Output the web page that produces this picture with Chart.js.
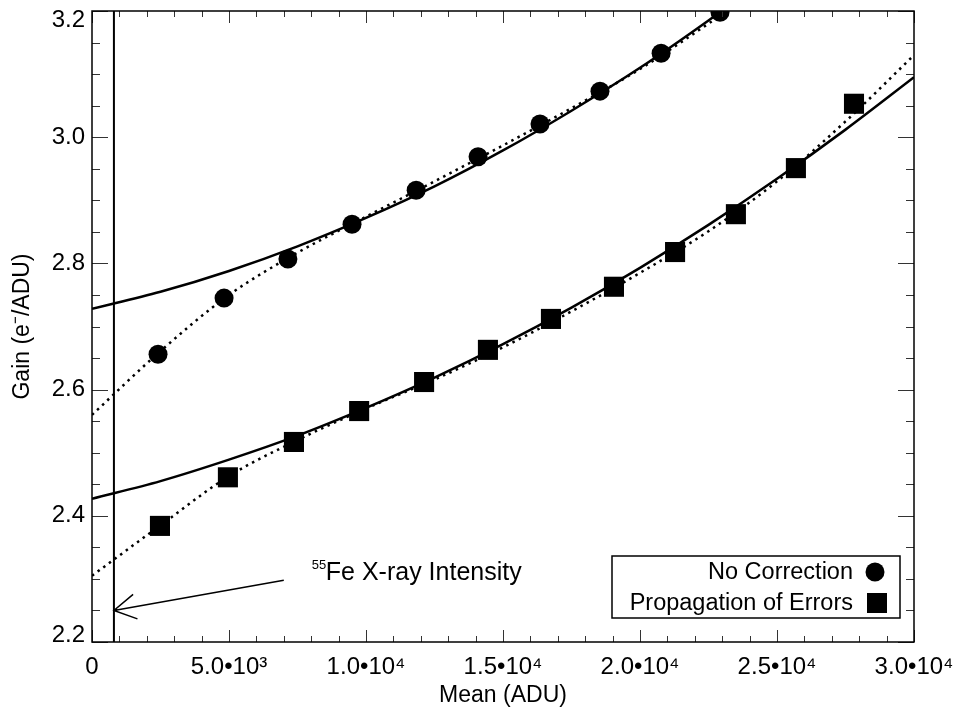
<!DOCTYPE html>
<html>
<head>
<meta charset="utf-8">
<script src="https://cdn.jsdelivr.net/npm/chart.js@4.4.1/dist/chart.umd.min.js"></script>
<style>
  html, body { margin: 0; padding: 0; background: #fff; }
</style>
</head>
<body>
<canvas id="gain-chart" width="958" height="710"></canvas>
<script>
// measured gain points
const noCorrMean = [2410, 4820, 7150, 9490, 11830, 14090, 16350, 18540, 20770, 22920];
const noCorrGain = [2.656, 2.745, 2.807, 2.862, 2.916, 2.969, 3.021, 3.073, 3.133, 3.198];
const propMean = [2480, 4960, 7370, 9750, 12120, 14450, 16750, 19050, 21280, 23500, 25690, 27810];
const propGain = [2.384, 2.461, 2.517, 2.566, 2.612, 2.663, 2.712, 2.763, 2.818, 2.878, 2.951, 3.053];

// fit curves
const noCorrFitMean = [0, 2500, 5000, 7500, 10000, 12500, 15000, 17500, 20000, 22500, 25000];
const noCorrSolid = [2.728, 2.755, 2.788, 2.827, 2.872, 2.922, 2.979, 3.042, 3.110, 3.185, 3.265];
const noCorrDotted = [2.560, 2.661, 2.750, 2.817, 2.874, 2.930, 2.987, 3.046, 3.108, 3.180, 3.255];
const propFitMean = [0, 2500, 5000, 7500, 10000, 12500, 15000, 17500, 20000, 22500, 25000, 27500, 30000];
const propSolid = [2.427, 2.455, 2.489, 2.527, 2.571, 2.619, 2.672, 2.730, 2.793, 2.861, 2.934, 3.012, 3.095];
const propDotted = [2.305, 2.385, 2.463, 2.520, 2.570, 2.616, 2.667, 2.724, 2.785, 2.851, 2.930, 3.025, 3.130];

// 55Fe marker
const feMean = 800;
const feArrowTail = { x: 7000, y: 2.298 };
const feArrowTip = { x: 800, y: 2.25 };

// axes
const xTickValues = [0, 5000, 10000, 15000, 20000, 25000, 30000];
const xTickLabels = ['0', '5.0•10³', '1.0•10⁴', '1.5•10⁴', '2.0•10⁴', '2.5•10⁴', '3.0•10⁴'];
const yTickValues = [2.2, 2.4, 2.6, 2.8, 3.0, 3.2];
const yTickLabels = ['2.2', '2.4', '2.6', '2.8', '3.0', '3.2'];

const FONT = "'Liberation Sans', Arial, Helvetica, sans-serif";

function toXY(xs, ys) {
    return xs.map((x, i) => ({ x: x, y: ys[i] }));
}

// box, inward ticks, tick labels, Fe line + arrow, legend
const decorations = {
    id: 'decorations',
    afterDatasetsDraw(chart) {
        const ctx = chart.ctx;
        const area = chart.chartArea;
        const xs = chart.scales.x;
        const ys = chart.scales.y;
        ctx.save();

        // ticks
        ctx.strokeStyle = '#333';
        ctx.lineWidth = 1;
        ctx.beginPath();
        for (let v = 0; v <= 30000; v += 1000) {
            const px = Math.round(xs.getPixelForValue(v)) + 0.5;
            const len = v % 5000 === 0 ? 12 : 6;
            ctx.moveTo(px, area.bottom); ctx.lineTo(px, area.bottom - len);
            ctx.moveTo(px, area.top); ctx.lineTo(px, area.top + len);
        }
        for (let k = 0; k <= 20; k++) {
            const v = 2.2 + k * 0.05;
            const py = Math.round(ys.getPixelForValue(v)) + 0.5;
            const len = k % 4 === 0 ? 16 : 8;
            ctx.moveTo(area.left, py); ctx.lineTo(area.left + len, py);
            ctx.moveTo(area.right, py); ctx.lineTo(area.right - len, py);
        }
        ctx.stroke();

        // tick labels (end y labels pulled inside like the original)
        ctx.fillStyle = '#000';
        ctx.font = '24px ' + FONT;
        ctx.textAlign = 'right';
        ctx.textBaseline = 'middle';
        yTickValues.forEach((v, i) => {
            let py = ys.getPixelForValue(v);
            if (i === 0) py -= 7;
            if (i === yTickValues.length - 1) py += 9;
            ctx.fillText(yTickLabels[i], area.left - 7, py);
        });
        ctx.textAlign = 'center';
        xTickValues.forEach((v, i) => {
            ctx.fillText(xTickLabels[i], xs.getPixelForValue(v), area.bottom + 25);
        });

        // frame
        ctx.strokeStyle = '#000';
        ctx.lineWidth = 1.5;
        ctx.strokeRect(area.left, area.top, area.right - area.left, area.bottom - area.top);

        // vertical Fe line
        const fx = xs.getPixelForValue(feMean);
        ctx.lineWidth = 2;
        ctx.beginPath();
        ctx.moveTo(fx, area.top); ctx.lineTo(fx, area.bottom);
        ctx.stroke();

        // arrow
        const tx = xs.getPixelForValue(feArrowTail.x), ty = ys.getPixelForValue(feArrowTail.y);
        const hx = xs.getPixelForValue(feArrowTip.x), hy = ys.getPixelForValue(feArrowTip.y);
        const ang = Math.atan2(ty - hy, tx - hx);
        ctx.lineWidth = 1.5;
        ctx.beginPath();
        ctx.moveTo(tx, ty); ctx.lineTo(hx, hy);
        ctx.moveTo(hx + 25 * Math.cos(ang - 0.52), hy + 25 * Math.sin(ang - 0.52));
        ctx.lineTo(hx, hy);
        ctx.lineTo(hx + 25 * Math.cos(ang + 0.52), hy + 25 * Math.sin(ang + 0.52));
        ctx.stroke();

        // Fe label
        ctx.textBaseline = 'alphabetic';
        ctx.textAlign = 'left';
        ctx.font = '13px ' + FONT;
        ctx.fillText('55', tx + 28, ty - 11);
        ctx.font = '25px ' + FONT;
        ctx.fillText('Fe X-ray Intensity', tx + 42, ty);

        // legend
        const lx = area.right - 302, ly = area.bottom - 86;
        ctx.lineWidth = 1.5;
        ctx.strokeRect(lx, ly, 288, 62);
        ctx.font = '23.5px ' + FONT;
        ctx.textAlign = 'right';
        ctx.textBaseline = 'middle';
        const ds = chart.data.datasets;
        ctx.fillText(ds[0].label, lx + 241, ly + 17);
        ctx.fillText(ds[1].label, lx + 241, ly + 48);
        ctx.beginPath();
        ctx.arc(lx + 263, ly + 16, 9.5, 0, Math.PI * 2);
        ctx.fill();
        ctx.fillRect(lx + 255, ly + 37, 20, 20);

        ctx.restore();
    }
};

const ctx = document.getElementById('gain-chart').getContext('2d');
const gainChart = new Chart(ctx, {
    type: 'scatter',
    data: {
        datasets: [
            {
                label: 'No Correction',
                data: toXY(noCorrMean, noCorrGain),
                pointStyle: 'circle',
                pointRadius: 9.5,
                backgroundColor: '#000',
                borderWidth: 0,
                order: 0
            },
            {
                label: 'Propagation of Errors',
                data: toXY(propMean, propGain),
                pointStyle: 'rect',
                pointRadius: 14.2,
                backgroundColor: '#000',
                borderWidth: 0,
                order: 0
            },
            {
                label: 'fit1',
                data: toXY(noCorrFitMean, noCorrSolid),
                showLine: true, pointRadius: 0,
                borderColor: '#000', borderWidth: 2.5,
                cubicInterpolationMode: 'monotone',
                order: 1
            },
            {
                label: 'fit2',
                data: toXY(noCorrFitMean, noCorrDotted),
                showLine: true, pointRadius: 0,
                borderColor: '#000', borderWidth: 2.5,
                borderDash: [2.5, 4.5],
                cubicInterpolationMode: 'monotone',
                order: 1
            },
            {
                label: 'fit3',
                data: toXY(propFitMean, propSolid),
                showLine: true, pointRadius: 0,
                borderColor: '#000', borderWidth: 2.5,
                cubicInterpolationMode: 'monotone',
                order: 1
            },
            {
                label: 'fit4',
                data: toXY(propFitMean, propDotted),
                showLine: true, pointRadius: 0,
                borderColor: '#000', borderWidth: 2.5,
                borderDash: [2.5, 4.5],
                cubicInterpolationMode: 'monotone',
                order: 1
            }
        ]
    },
    options: {
        responsive: false,
        animation: false,
        layout: { autoPadding: false, padding: { top: 11, right: 44, left: 0, bottom: 0 } },
        plugins: {
            legend: { display: false },
            tooltip: { enabled: false }
        },
        scales: {
            x: {
                type: 'linear',
                min: 0,
                max: 30000,
                afterBuildTicks: (scale) => { scale.ticks = xTickValues.map(v => ({ value: v })); },
                afterFit: (scale) => { scale.height = 68; },
                grid: { display: false, drawTicks: false },
                border: { display: false },
                ticks: { display: false },
                title: {
                    display: true,
                    text: 'Mean (ADU)',
                    color: '#000',
                    font: { family: FONT, size: 23 },
                    padding: { top: 0, bottom: 1 }
                }
            },
            y: {
                type: 'linear',
                min: 2.2,
                max: 3.2,
                afterBuildTicks: (scale) => { scale.ticks = yTickValues.map(v => ({ value: v })); },
                afterFit: (scale) => { scale.width = 92; },
                grid: { display: false, drawTicks: false },
                border: { display: false },
                ticks: { display: false },
                title: {
                    display: true,
                    text: 'Gain (e⁻/ADU)',
                    color: '#000',
                    font: { family: FONT, size: 23 },
                    padding: { top: 9, bottom: 0 }
                }
            }
        }
    },
    plugins: [decorations]
});
</script>
</body>
</html>
